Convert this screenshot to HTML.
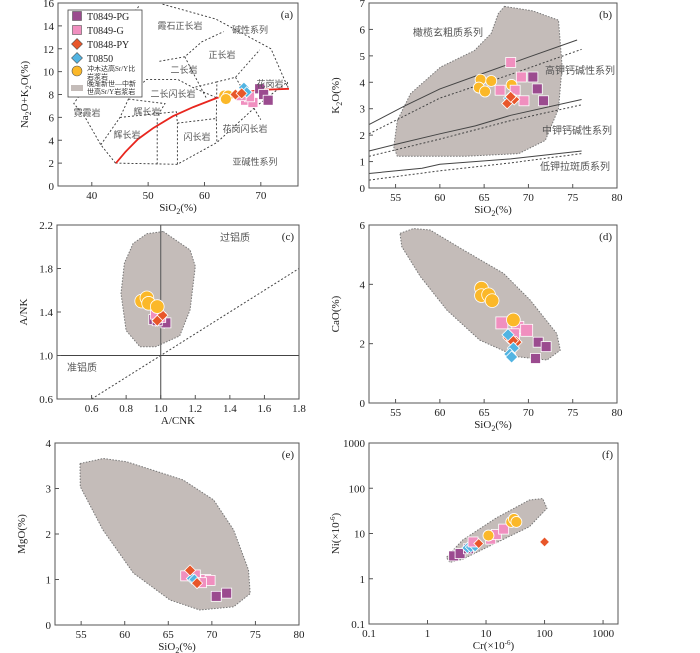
<!DOCTYPE html>
<html><head><meta charset="utf-8"><style>
html,body{margin:0;padding:0;background:#fff;}
svg{display:block;font-family:"Liberation Serif","Noto Serif CJK SC",serif;}
.t{font-size:11px;fill:#222;}
.z{font-family:"Liberation Serif","Noto Sans CJK SC",sans-serif;font-size:9px;fill:#555;}
</style></head><body>
<svg id="fig" width="700" height="653" viewBox="0 0 700 653"></svg>
<script>
// ---------- DATA ----------
const aPG=[[69.8,8.5],[70.5,8.0],[71.3,7.5]];
const aG=[[67.3,7.5],[68.6,7.3],[68.0,7.8],[66.5,7.9]];
const aPY=[[65.5,8.0],[66.6,8.1]];
const aT=[[67.0,8.6],[67.5,8.2]];
const aY=[[63.5,7.9],[64.2,7.9],[66.3,7.9],[63.8,7.6]];
const aCurve=[[44.3,2],[46,3],[48.2,4.1],[51,5.1],[54.4,6.1],[58,6.9],[62.2,7.7],[66,8.1],[70,8.4],[75,8.5]];
const bPG=[[70.5,4.2],[71.0,3.75],[71.7,3.3]];
const bG=[[68.0,4.75],[69.2,4.2],[66.8,3.7],[68.5,3.7],[69.5,3.3]];
const bPY=[[67.6,3.2],[68.4,3.35],[68.0,3.45]];
const bT=[[67.8,3.4]];
const bY=[[64.6,4.1],[65.8,4.05],[64.4,3.8],[65.1,3.65],[68.1,3.9]];
const bField=[[67.3,6.87],[70.5,6.7],[73.4,6.35],[73.8,4.6],[73.4,3.0],[71.9,1.8],[68.9,1.3],[62.8,1.2],[55.2,1.2],[54.8,1.55],[55.2,2.55],[56.7,3.57],[60.1,4.58],[63.9,5.2],[65.8,5.85],[66.6,6.6]];
const bLineHi=[[52,2.4],[56,3.1],[60,3.75],[65,4.35],[70,4.95],[75.5,5.6]];
const bLineHiD=[[52,2.05],[60,3.4],[68,4.3],[76,5.25]];
const bLineMid=[[52,1.4],[55,1.65],[60,2.05],[64,2.35],[68,2.75],[76,3.35]];
const bLineMidD=[[52,1.2],[60,1.85],[68,2.55],[76,3.15]];
const bLineLo=[[52,0.55],[58,0.75],[60,0.9],[68,1.1],[76,1.4]];
const bLineLoD=[[52,0.3],[60,0.65],[68,0.95],[76,1.3]];
const cPG=[[0.96,1.33],[1.03,1.3],[0.98,1.32]];
const cG=[[1.0,1.35],[0.97,1.38]];
const cPY=[[1.01,1.37],[0.98,1.32]];
const cT=[[0.97,1.32],[1.02,1.3]];
const cY=[[0.89,1.5],[0.92,1.53],[0.93,1.48],[0.98,1.45]];
const cField=[[1.015,2.14],[1.17,1.97],[1.2,1.82],[1.17,1.42],[1.11,1.18],[0.97,1.08],[0.88,1.08],[0.80,1.23],[0.77,1.57],[0.79,1.85],[0.84,2.03],[0.92,2.12]];
const dPG=[[71.1,2.05],[72.0,1.9],[70.8,1.5]];
const dG=[[67.0,2.7],[68.8,2.55],[69.8,2.45],[68.3,2.3]];
const dPY=[[67.8,2.2],[68.6,2.05],[68.2,2.1]];
const dT=[[67.7,2.3],[68.3,1.85],[67.9,1.65],[68.1,1.55]];
const dY=[[64.7,3.87],[64.7,3.62],[65.5,3.65],[65.9,3.45],[68.3,2.8]];
const dField=[[55.5,5.72],[57.0,5.88],[58.9,5.83],[62.7,5.15],[67.2,4.37],[70.2,3.47],[73.2,2.34],[73.6,1.78],[72.1,1.45],[68.7,1.56],[64.5,2.12],[60.8,3.13],[57.8,4.26],[55.7,5.27]];
const ePG=[[70.5,0.63],[71.7,0.7]];
const eG=[[67.0,1.08],[68.1,1.1],[69.3,1.0],[69.8,0.98],[68.8,0.93]];
const ePY=[[67.5,1.2],[68.3,0.92]];
const eT=[[67.7,1.02],[68.0,1.0]];
const eField=[[54.87,3.55],[57.55,3.66],[60.2,3.59],[66.7,3.19],[70.2,2.75],[72.5,2.09],[74.2,1.21],[74.4,0.69],[72.5,0.40],[68.6,0.33],[65.2,0.55],[61.0,1.14],[57.5,2.09],[54.9,3.04]];
const fPG=[[2.8,3.2],[3.6,3.6],[5,4.6]];
const fG=[[6,6.5],[12,7.5],[15,9.5],[20,12.5]];
const fPY=[[7.5,6],[100,6.5]];
const fT=[[4.8,4.8],[5.5,5.0],[6.5,5.2]];
const fY=[[11,9],[27,18],[30,21],[33,18]];
const fField=[[2.4,3.6],[4,7.2],[14.8,21.9],[55,55],[93,59],[110,36],[55,14.1],[14.8,6.2],[4,2.7],[2.4,2.3],[2.1,2.95]];
const linTicksSiO2=[55,60,65,70,75,80];
const logTicks=[0.1,1,10,100,1000];
const logTickLabels=["0.1","1","10","100","1000"];

// ---------- DRAW ----------
const NS="http://www.w3.org/2000/svg";
const svg=document.getElementById('fig');
function mk(tag,attrs,parent){const e=document.createElementNS(NS,tag);for(const k in attrs)e.setAttribute(k,attrs[k]);(parent||svg).appendChild(e);return e;}
const COL={PG:'#9b4b8f',G:'#f08fbf',PY:'#e8562a',T:'#52b4e2',Y:'#fbb829',F:'#c4bcb9'};

function panel(o){
  const g=mk('g',{});
  
  
  const tf=o.logx?(v=>Math.log10(v)):(v=>v);
  const tfy=o.logy?(v=>Math.log10(v)):(v=>v);
  const X=v=>o.x0+(tf(v)-tf(o.xmin))/(tf(o.xmax)-tf(o.xmin))*(o.x1-o.x0);
  const Y=v=>o.y1-(tfy(v)-tfy(o.ymin))/(tfy(o.ymax)-tfy(o.ymin))*(o.y1-o.y0);
  o.X=X;o.Y=Y;o.g=g;
  return o;
}
function pts(o,arr){return arr.map(p=>o.X(p[0]).toFixed(1)+','+o.Y(p[1]).toFixed(1)).join(' ');}
function field(o,arr,name){const e=mk('polygon',{points:pts(o,arr),fill:COL.F,stroke:'#777','stroke-width':1,'stroke-dasharray':'1.5,1.5'},o.g);}
function line(o,arr,name,style){const e=mk('polyline',Object.assign({points:pts(o,arr),fill:'none',stroke:'#444','stroke-width':1},style||{}),o.g);}
function marker(o,kind,x,y,s){
  const cx=o.X(x),cy=o.Y(y);s=s||1;let e;
  if(kind==='PG'||kind==='G'){const h=5*s;e=mk('rect',{x:cx-h,y:cy-h,width:2*h,height:2*h,fill:COL[kind],stroke:'#fff','stroke-width':0.8},o.g);}
  else if(kind==='PY'||kind==='T'){const h=5.5*s;e=mk('polygon',{points:`${cx},${cy-h} ${cx+h},${cy} ${cx},${cy+h} ${cx-h},${cy}`,fill:COL[kind],stroke:'#fff','stroke-width':0.8},o.g);}
  else {e=mk('circle',{cx:cx,cy:cy,r:5.5*s,fill:COL.Y,stroke:'#fff','stroke-width':0.8},o.g);}
  return e;
}
function series(o,arr,kind,name,s){arr.forEach(p=>{const e=marker(o,kind,p[0],p[1],s);});}
function frame(o,xt,yt,xl,yl,xlab,ylab,tag,xfmt,yfmt){
  const g=o.g;
  const r=mk('rect',{x:o.x0,y:o.y0,width:o.x1-o.x0,height:o.y1-o.y0,fill:'none',stroke:'#555','stroke-width':1},g);
  
  xt.forEach((v,i)=>{const x=o.X(v);mk('line',{x1:x,x2:x,y1:o.y1,y2:o.y1-4,stroke:'#555'},g);
    const t=mk('text',{x:x,y:o.y1+13,'text-anchor':'middle',class:'t'},g);t.textContent=xl?xl[i]:(xfmt?xfmt(v):v);
    });
  yt.forEach((v,i)=>{const y=o.Y(v);mk('line',{x1:o.x0,x2:o.x0+4,y1:y,y2:y,stroke:'#555'},g);
    const t=mk('text',{x:o.x0-4,y:y+4,'text-anchor':'end',class:'t'},g);t.textContent=yl?yl[i]:(yfmt?yfmt(v):v);
    });
  const xa=mk('text',{x:(o.x0+o.x1)/2,y:o.y1+25,'text-anchor':'middle',class:'t'},g);xa.innerHTML=xlab;
  
  const cy=(o.y0+o.y1)/2, cx=o.x0-30;
  const ya=mk('text',{x:cx,y:cy,'text-anchor':'middle',class:'t',transform:`rotate(-90 ${cx} ${cy})`},g);ya.innerHTML=ylab;
  
  const pt=mk('text',{x:o.x1-5,y:o.y0+15,'text-anchor':'end',class:'t'},g);pt.textContent=tag;
  
}
function label(o,x,y,txt,name,size){const t=mk('text',{x:x,y:y,'text-anchor':'middle',class:'z'},o.g);if(size)t.style.fontSize=size+'px';t.textContent=txt;}
const SUB=s=>s.replace(/_(\d)([^_]*)/g,'<tspan dy="3" font-size="8">$1</tspan><tspan dy="-3">$2</tspan>');

// Panel A
const A=panel({name:'panel-a-tas',x0:58,x1:298,y0:3,y1:186,xmin:34,xmax:76.6,ymin:0,ymax:16});
const tasLines=[
 [[44.2,2],[55.2,1.9],[62.2,3.8],[69,6.9],[74.7,9.1],[74.8,8.6],[71.8,12],[62,14.6],[52.5,15.9]],
 [[44.2,2],[41.6,3.6],[38.7,6.1],[36.8,7.2],[40.6,9.9],[45.2,13.8],[48.5,15.8]],
 [[41.6,3.6],[45,6],[46.5,7.6],[49.6,9.3],[55.3,9.3],[58,8.6],[62.2,7.7]],
 [[45,6],[55,6.5],[55.2,5.5],[62.1,5.9],[62.2,3.8]],
 [[51.6,1.9],[51.6,6.1]],[[55.2,1.9],[55.2,5.5]],
 [[46.5,7.6],[53,7.2],[51.6,6.1]],
 [[52,10.9],[56.5,11.3],[59.5,12.6],[63.4,13.5]],
 [[56.5,11.3],[60.3,7.7]],[[62.1,5.9],[62.2,9.1],[65.5,9.5],[69.8,11.9]],
 [[65.5,9.5],[70,5.8]],[[62.2,9.1],[58,8.6]]
];
tasLines.forEach(l=>line(A,l,'tas-boundary',{stroke:'#333','stroke-dasharray':'2,2','stroke-width':0.9}));
frame(A,[40,50,60,70],[0,2,4,6,8,10,12,14,16],null,null,SUB('SiO_2(%)'),SUB('Na_2O+K_2O(%)'),'(a)');
line(A,aCurve,'alkaline-subalkaline-divide',{stroke:'#e8261e','stroke-width':1.8});
series(A,aY,'Y','yellow-circle');series(A,aG,'G','t0849g-square');series(A,aPG,'PG','t0849pg-square');
series(A,aT,'T','t0850-diamond');series(A,aPY,'PY','t0848py-diamond');
[[180,29,'霞石正长岩'],[250,33,'碱性系列'],[222,58,'正长岩'],[184,73,'二长岩'],[270,87,'花岗岩'],[173,97,'二长闪长岩'],[87,116,'霓霞岩'],[147,115,'辉长岩'],[127,138,'辉长岩'],[197,140,'闪长岩'],[245,132,'花岗闪长岩'],[255,165,'亚碱性系列']].forEach(l=>label(A,l[0],l[1],l[2],'rock-field-label'));
const lg=mk('g',{},A.g);
mk('rect',{x:68,y:10,width:74,height:87,fill:'#fff',stroke:'#444','stroke-width':0.8},lg);
const legItems=[['PG','T0849-PG',16],['G','T0849-G',30],['PY','T0848-PY',44],['T','T0850',58]];
legItems.forEach(it=>{const cx=77,cy=it[2];let e;
 if(it[0]==='PG'||it[0]==='G')e=mk('rect',{x:cx-4.5,y:cy-4.5,width:9,height:9,fill:COL[it[0]],stroke:'#555','stroke-width':0.6},lg);
 else e=mk('polygon',{points:`${cx},${cy-5.5} ${cx+5.5},${cy} ${cx},${cy+5.5} ${cx-5.5},${cy}`,fill:COL[it[0]],stroke:'#555','stroke-width':0.6},lg);
 
 const t=mk('text',{x:87,y:cy+4,class:'t'},lg);t.style.fontSize='10px';t.textContent=it[1];});
mk('circle',{cx:77,cy:71,r:5,fill:COL.Y,stroke:'#555','stroke-width':0.6},lg);
mk('rect',{x:71,y:85,width:12,height:6,fill:COL.F},lg);
[[87,71,'冲木达高Sr/Y比'],[87,79,'岩浆岩'],[87,86,'晚渐新世—中新'],[87,94,'世高Sr/Y岩浆岩']].forEach(l=>{const t=mk('text',{x:l[0],y:l[1],class:'z'},lg);t.style.fontSize='7px';t.style.fill='#333';t.textContent=l[2];});

// Panel B
const B=panel({name:'panel-b-k2o',x0:369,x1:617,y0:3,y1:188,xmin:52,xmax:80,ymin:0,ymax:7});
field(B,bField,'adakite-field');
[[bLineHi,0],[bLineHiD,1],[bLineMid,0],[bLineMidD,1],[bLineLo,0],[bLineLoD,1]].forEach(l=>line(B,l[0],'series-boundary',l[1]?{'stroke-dasharray':'2,2'}:{}));
frame(B,linTicksSiO2,[0,1,2,3,4,5,6,7],null,null,SUB('SiO_2(%)'),SUB('K_2O(%)'),'(b)');
series(B,bY,'Y','yellow-circle');series(B,bG,'G','t0849g-square');series(B,bPG,'PG','t0849pg-square');series(B,bT,'T','t0850-diamond');series(B,bPY,'PY','t0848py-diamond');
[[448,36,'橄榄玄粗质系列'],[580,74,'高钾钙碱性系列'],[577,134,'中钾钙碱性系列'],[575,170,'低钾拉斑质系列']].forEach(l=>label(B,l[0],l[1],l[2],'series-label',10));

// Panel C
const C=panel({name:'panel-c-ank',x0:57,x1:299,y0:225,y1:399,xmin:0.4,xmax:1.8,ymin:0.6,ymax:2.2});
field(C,cField,'adakite-field');
line(C,[[0.6,0.6],[1.8,1.8]],'diagonal',{'stroke-dasharray':'2,2'});
line(C,[[1,0.6],[1,2.2]],'acnk-1-line',{stroke:'#666','stroke-width':1.2});
line(C,[[0.4,1],[1.8,1]],'ank-1-line');
frame(C,[0.6,0.8,1.0,1.2,1.4,1.6,1.8],[0.6,1.0,1.4,1.8,2.2],null,null,'A/CNK','A/NK','(c)',v=>v.toFixed(1),v=>v.toFixed(1));
series(C,cT,'T','t0850-diamond');series(C,cPG,'PG','t0849pg-square');series(C,cG,'G','t0849g-square');series(C,cPY,'PY','t0848py-diamond');series(C,cY,'Y','yellow-circle',1.25);
label(C,235,241,'过铝质','peraluminous-label',10);label(C,82,371,'准铝质','metaluminous-label',10);

// Panel D
const D=panel({name:'panel-d-cao',x0:369,x1:617,y0:225,y1:403,xmin:52,xmax:80,ymin:0,ymax:6});
field(D,dField,'adakite-field');
frame(D,linTicksSiO2,[0,2,4,6],null,null,SUB('SiO_2(%)'),'CaO(%)','(d)');
series(D,dG,'G','t0849g-square',1.2);series(D,dPY,'PY','t0848py-diamond',1.1);series(D,dT,'T','t0850-diamond',1.1);series(D,dPG,'PG','t0849pg-diamond');series(D,dY,'Y','yellow-circle',1.25);

// Panel E
const E=panel({name:'panel-e-mgo',x0:55,x1:299,y0:443,y1:625,xmin:52,xmax:80,ymin:0,ymax:4});
field(E,eField,'adakite-field');
frame(E,linTicksSiO2,[0,1,2,3,4],null,null,SUB('SiO_2(%)'),'MgO(%)','(e)');
series(E,eG,'G','t0849g-square');series(E,ePG,'PG','t0849pg-square');series(E,eT,'T','t0850-diamond');series(E,ePY,'PY','t0848py-diamond');

// Panel F
const F=panel({name:'panel-f-cr-ni',x0:369,x1:618,y0:443,y1:624,xmin:0.1,xmax:1800,ymin:0.1,ymax:1000,logx:true,logy:true});
field(F,fField,'adakite-field');
frame(F,logTicks,logTicks,logTickLabels,logTickLabels,'Cr(×10<tspan dy="-4" font-size="7">-6</tspan><tspan dy="4">)</tspan>','Ni(×10<tspan dy="-4" font-size="7">-6</tspan><tspan dy="4">)</tspan>','(f)');
series(F,fPG,'PG','t0849pg-square');series(F,fT,'T','t0850-diamond');series(F,fG,'G','t0849g-square');series(F,fPY,'PY','t0848py-diamond',0.9);series(F,fY,'Y','yellow-circle');
</script>
</body></html>
